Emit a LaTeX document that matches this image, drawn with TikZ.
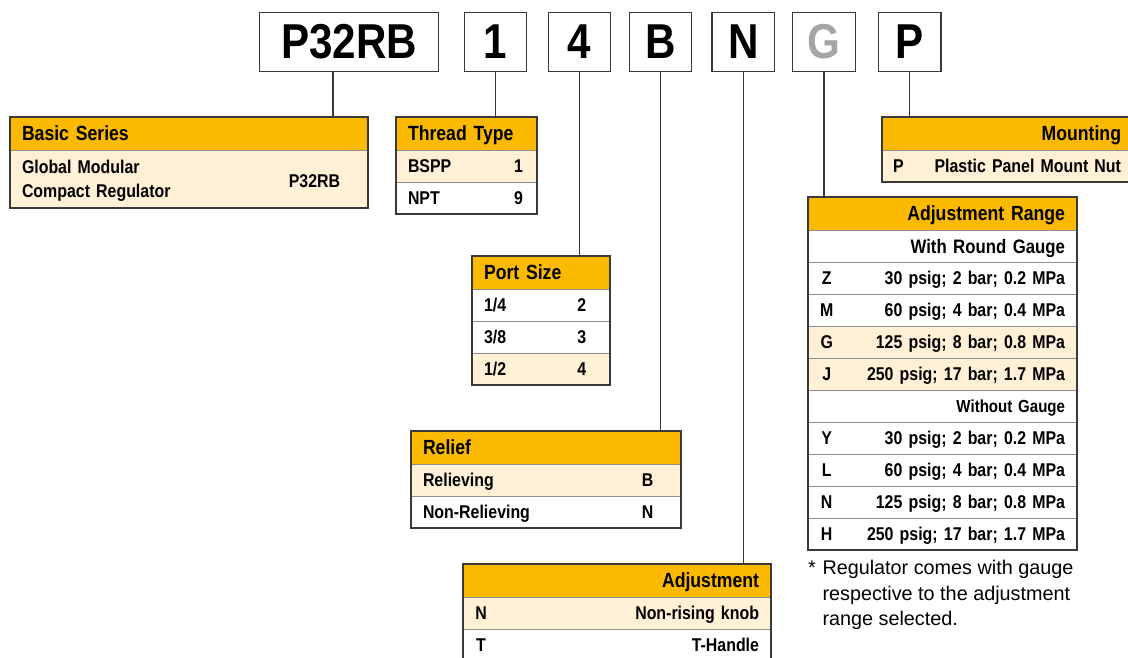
\documentclass[tikz,border=0pt]{standalone}
\usepackage{fontspec}
\setmainfont{Liberation Sans}[FakeStretch=0.86]
\newfontfamily\notefont{Liberation Sans}
\usetikzlibrary{positioning,fit}

\definecolor{hdrorange}{HTML}{FBB900}
\definecolor{rowcream}{HTML}{FFF0D6}
\definecolor{framegray}{HTML}{3A3A3A}
\definecolor{rulegray}{HTML}{8E8E8E}
\definecolor{fadegray}{HTML}{A5A5A5}

\begin{document}
\begin{tikzpicture}[
  x=1pt, y=-1pt,
  codebox/.style={draw=framegray, line width=1.4pt, minimum width=62.5pt, minimum height=59.5pt, inner sep=0pt, font=\fontsize{49}{49}\selectfont\bfseries},
  head/.style={draw=rulegray, line width=0.9pt, fill=hdrorange, anchor=north west, outer sep=0pt, minimum height=33pt, inner xsep=12pt, inner ysep=0pt, align=left, text height=14.7pt, text depth=0pt, font=\fontsize{20.5}{24}\selectfont\bfseries},
  optrow/.style={head, fill=white, minimum height=32pt, text height=13.2pt, text depth=0pt, font=\fontsize{18.5}{24.6}\selectfont\bfseries},
  selrow/.style={optrow, fill=rowcream},
  codetxt/.style={inner sep=0pt, text height=13.2pt, text depth=0pt, font=\fontsize{18.5}{24.6}\selectfont\bfseries},
  tabframe/.style={draw=framegray, line width=1.2pt, inner sep=0pt},
  link/.style={draw=framegray, line width=1.2pt}
]
\clip (0,0) rectangle (1128,657);

% part number boxes
\node[codebox, minimum width=178.6pt] (cbase) at (349,42) {P32RB};
\node[codebox] (cthread) at (495.5,42) {1};
\node[codebox] (cport) at (579.5,42) {4};
\node[codebox] (crelief) at (660.5,42) {B};
\node[codebox] (cadjust) at (743.3,42) {N};
\node[codebox, text=fadegray] (crange) at (824,42) {G};
\node[codebox] (cmount) at (909.6,42) {P};

% basic series
\node[head, text width=334pt] (baseh) at (10,117) {Basic Series};
\node[selrow, text width=334pt, minimum height=58pt, text depth=24.6pt] (base1) at (baseh.south west) {Global Modular\\Compact Regulator};
\node[codetxt] (base1c) at ([xshift=-53.5pt,yshift=-2pt]base1.east) {P32RB};
\node[tabframe, fit=(baseh)(base1)] (base) {};

% thread type
\node[head, text width=117pt] (threadh) at (396,117) {Thread Type};
\node[selrow, text width=117pt] (thread1) at (threadh.south west) {BSPP};
\node[optrow, text width=117pt] (thread2) at (thread1.south west) {NPT};
\node[codetxt] (thread1c) at ([xshift=-18.5pt]thread1.east) {1};
\node[codetxt] (thread2c) at ([xshift=-18.5pt]thread2.east) {9};
\node[tabframe, fit=(threadh)(thread2)] (thread) {};

% port size
\node[head, text width=114pt] (porth) at (472,256) {Port Size};
\node[optrow, text width=114pt] (port1) at (porth.south west) {1/4};
\node[optrow, text width=114pt] (port2) at (port1.south west) {3/8};
\node[selrow, text width=114pt] (port3) at (port2.south west) {1/2};
\node[codetxt] (port1c) at ([xshift=-28.3pt]port1.east) {2};
\node[codetxt] (port2c) at ([xshift=-28.3pt]port2.east) {3};
\node[codetxt] (port3c) at ([xshift=-28.3pt]port3.east) {4};
\node[tabframe, fit=(porth)(port3)] (port) {};

% relief
\node[head, text width=246pt] (reliefh) at (411,431) {Relief};
\node[selrow, text width=246pt] (relief1) at (reliefh.south west) {Relieving};
\node[optrow, text width=246pt] (relief2) at (relief1.south west) {Non-Relieving};
\node[codetxt] (relief1c) at ([xshift=-33.4pt]relief1.east) {B};
\node[codetxt] (relief2c) at ([xshift=-33.4pt]relief2.east) {N};
\node[tabframe, fit=(reliefh)(relief2)] (relief) {};

% adjustment
\node[head, text width=284pt, align=right] (adjusth) at (463,564) {Adjustment};
\node[selrow, text width=284pt, align=right] (adjust1) at (adjusth.south west) {Non-rising knob};
\node[optrow, text width=284pt, align=right] (adjust2) at (adjust1.south west) {T-Handle};
\node[codetxt] (adjust1c) at ([xshift=18pt]adjust1.west) {N};
\node[codetxt] (adjust2c) at ([xshift=18pt]adjust2.west) {T};
\node[tabframe, fit=(adjusth)(adjust2)] (adjust) {};

% mounting
\node[head, text width=227pt, align=right] (mounth) at (882,117) {Mounting};
\node[selrow, text width=227pt, align=right] (mount1) at (mounth.south west) {Plastic Panel Mount Nut};
\node[codetxt] (mount1c) at ([xshift=16.3pt]mount1.west) {P};
\node[tabframe, fit=(mounth)(mount1)] (mount) {};

% adjustment range
\node[head, text width=245pt, align=right] (rangeh) at (808,197) {Adjustment Range};
\node[optrow, text width=245pt, align=right, text height=14pt, font=\fontsize{19.5}{24}\selectfont\bfseries] (range1) at (rangeh.south west) {With Round Gauge};
\node[optrow, text width=245pt, align=right] (range2) at (range1.south west) {30 psig; 2 bar; 0.2 MPa};
\node[optrow, text width=245pt, align=right] (range3) at (range2.south west) {60 psig; 4 bar; 0.4 MPa};
\node[selrow, text width=245pt, align=right] (range4) at (range3.south west) {125 psig; 8 bar; 0.8 MPa};
\node[selrow, text width=245pt, align=right] (range5) at (range4.south west) {250 psig; 17 bar; 1.7 MPa};
\node[optrow, text width=245pt, align=right, text height=12.6pt, font=\fontsize{17.5}{24}\selectfont\bfseries] (range6) at (range5.south west) {Without Gauge};
\node[optrow, text width=245pt, align=right] (range7) at (range6.south west) {30 psig; 2 bar; 0.2 MPa};
\node[optrow, text width=245pt, align=right] (range8) at (range7.south west) {60 psig; 4 bar; 0.4 MPa};
\node[optrow, text width=245pt, align=right] (range9) at (range8.south west) {125 psig; 8 bar; 0.8 MPa};
\node[optrow, text width=245pt, align=right] (range10) at (range9.south west) {250 psig; 17 bar; 1.7 MPa};
\node[codetxt] (range2c) at ([xshift=18.7pt]range2.west) {Z};
\node[codetxt] (range3c) at ([xshift=18.7pt]range3.west) {M};
\node[codetxt] (range4c) at ([xshift=18.7pt]range4.west) {G};
\node[codetxt] (range5c) at ([xshift=18.7pt]range5.west) {J};
\node[codetxt] (range7c) at ([xshift=18.7pt]range7.west) {Y};
\node[codetxt] (range8c) at ([xshift=18.7pt]range8.west) {L};
\node[codetxt] (range9c) at ([xshift=18.7pt]range9.west) {N};
\node[codetxt] (range10c) at ([xshift=18.7pt]range10.west) {H};
\node[tabframe, fit=(rangeh)(range10)] (range) {};

\node[anchor=north west, inner sep=0pt, align=left, font=\notefont\fontsize{19.8}{25.5}\selectfont] (note) at (808,560)
{\makebox[14.3pt][l]{*}Regulator comes with gauge\\\hspace*{14.3pt}respective to the adjustment\\\hspace*{14.3pt}range selected.};

% links from code boxes to tables
\draw[link] ([xshift=-16pt]cbase.south) -- ([xshift=-16pt]cbase.south |- base.north);
\draw[link] (cthread.south) -- (cthread.south |- thread.north);
\draw[link] (cport.south) -- (cport.south |- port.north);
\draw[link] (crelief.south) -- (crelief.south |- relief.north);
\draw[link] (cadjust.south) -- (cadjust.south |- adjust.north);
\draw[link] (crange.south) -- (crange.south |- range.north);
\draw[link] (cmount.south) -- (cmount.south |- mount.north);
\end{tikzpicture}
\end{document}
